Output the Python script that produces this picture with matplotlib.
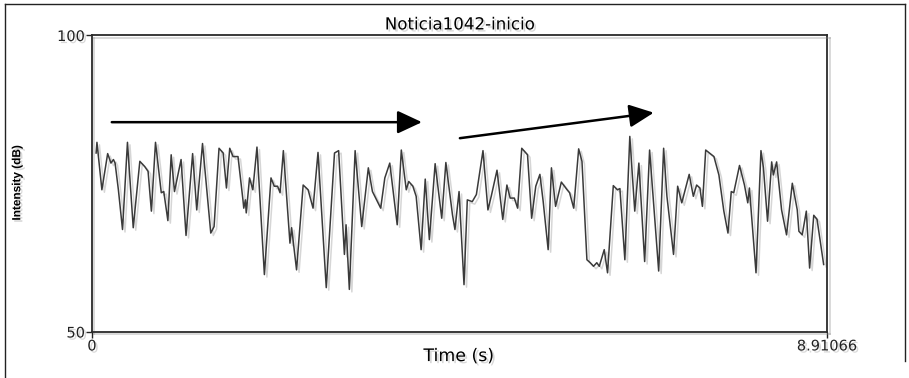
import matplotlib
matplotlib.use("Agg")
import matplotlib.pyplot as plt
import matplotlib.patheffects as pe
from matplotlib.lines import Line2D

# Intensity contour (time in seconds, intensity in dB)
time_s = [
    0.05, 0.06, 0.12, 0.19, 0.23, 0.26, 0.28, 0.32, 0.37, 0.43,
    0.50, 0.58, 0.64, 0.68, 0.72, 0.77, 0.84, 0.87, 0.92, 0.96,
    1.00, 1.08, 1.14, 1.22, 1.27, 1.34, 1.44, 1.48, 1.54, 1.59,
    1.63, 1.67, 1.71, 1.77, 1.83, 1.84, 1.86, 1.87, 1.91, 1.95,
    2.00, 2.09, 2.17, 2.21, 2.25, 2.28, 2.32, 2.40, 2.42, 2.48,
    2.56, 2.62, 2.68, 2.74, 2.84, 2.94, 2.99, 3.06, 3.08, 3.12,
    3.19, 3.27, 3.35, 3.40, 3.50, 3.55, 3.61, 3.70, 3.75, 3.81,
    3.84, 3.89, 3.93, 3.99, 4.04, 4.09, 4.16, 4.24, 4.29, 4.37,
    4.40, 4.45, 4.51, 4.55, 4.61, 4.66, 4.74, 4.80, 4.84, 4.91,
    4.98, 5.03, 5.07, 5.12, 5.16, 5.21, 5.28, 5.33, 5.38, 5.43,
    5.47, 5.53, 5.57, 5.62, 5.69, 5.76, 5.79, 5.84, 5.90, 5.94,
    6.00, 6.04, 6.08, 6.12, 6.15, 6.21, 6.25, 6.32, 6.37, 6.40,
    6.46, 6.52, 6.58, 6.63, 6.70, 6.76, 6.87, 6.93, 6.97, 7.05,
    7.10, 7.15, 7.24, 7.29, 7.33, 7.37, 7.40, 7.44, 7.54, 7.60,
    7.66, 7.71, 7.75, 7.78, 7.85, 7.91, 7.95, 7.97, 8.05, 8.11,
    8.14, 8.19, 8.24, 8.26, 8.30, 8.36, 8.42, 8.49, 8.55, 8.57,
    8.61, 8.66, 8.70, 8.75, 8.79, 8.87,
]
intensity_db = [
    80.1, 81.9, 73.9, 80.0, 78.4, 79.0, 78.4, 73.9, 67.2, 81.9,
    67.5, 78.7, 77.8, 77.0, 70.3, 81.9, 73.4, 73.6, 68.7, 79.8,
    73.6, 79.0, 66.2, 80.0, 70.5, 81.7, 66.6, 67.7, 80.9, 80.1,
    74.2, 80.9, 79.5, 79.5, 72.2, 70.8, 72.2, 70.0, 75.9, 73.9,
    81.1, 59.6, 75.9, 74.5, 74.5, 73.4, 80.5, 64.9, 67.5, 60.4,
    74.7, 73.9, 70.8, 80.2, 57.4, 80.1, 80.5, 63.0, 68.0, 57.1,
    80.5, 67.7, 77.6, 73.6, 70.8, 75.9, 78.4, 68.0, 80.6, 73.9,
    75.3, 74.5, 72.8, 63.8, 75.7, 65.5, 78.3, 69.1, 78.5, 69.7,
    67.2, 73.6, 57.9, 72.2, 71.9, 73.1, 80.5, 70.5, 72.8, 77.2,
    68.9, 74.7, 72.5, 72.5, 70.8, 80.9, 79.8, 69.1, 74.5, 76.5,
    71.9, 63.8, 77.6, 71.1, 75.2, 73.9, 73.4, 70.8, 80.8, 78.7,
    62.1, 61.6, 61.0, 61.6, 61.0, 63.8, 59.9, 74.6, 73.9, 74.1,
    62.1, 82.9, 70.3, 78.4, 61.8, 80.6, 60.2, 80.9, 72.8, 63.0,
    74.5, 71.7, 76.5, 72.8, 74.7, 74.2, 71.1, 80.6, 79.5, 76.4,
    70.3, 66.6, 73.6, 73.4, 78.0, 74.7, 71.7, 74.2, 59.9, 80.5,
    77.6, 68.6, 78.6, 76.4, 78.6, 70.5, 66.3, 75.0, 70.5, 66.9,
    66.3, 70.3, 60.7, 69.6, 68.9, 61.3,
]

time_range = [0, 8.91066]
db_range = [50, 100]
x_tick_labels = ["0", "8.91066"]
y_tick_labels = ["50", "100"]
title_text = "Noticia1042-inicio"
x_label = "Time (s)"
y_label = "Intensity (dB)"

# Two trend arrows: (start, end) in (s, dB)
arrow_flat = ((0.24, 85.3), (4.00, 85.3))
arrow_rise = ((4.46, 82.6), (6.81, 86.9))

plt.rcParams["font.family"] = ["DejaVu Sans"]

fig = plt.figure(figsize=(9.09, 3.78), dpi=100)
fig.patch.set_facecolor("white")

ax = fig.add_axes([0.1012, 0.123, 0.8086, 0.7844])

line_fx = [pe.SimpleLineShadow(offset=(1.8, -1.8), shadow_color="0.55", alpha=0.35),
           pe.Normal()]
text_fx = [pe.withSimplePatchShadow(offset=(1.5, -1.5), shadow_rgbFace="0.5", alpha=0.3)]

ax.plot(time_s, intensity_db, color="#3a3a3a", lw=1.1, path_effects=line_fx)

ax.set_xlim(time_range)
ax.set_ylim(db_range)
ax.set_xticks(time_range, x_tick_labels)
ax.set_yticks(db_range, y_tick_labels)
ax.tick_params(length=4, width=1.0, labelsize=10.5, pad=1, colors="#222222")
for lbl in ax.get_xticklabels() + ax.get_yticklabels():
    lbl.set_path_effects(text_fx)
for sp in ax.spines.values():
    sp.set_linewidth(1.3)
    sp.set_color("#2a2a2a")
    sp.set_path_effects(line_fx)

for (x0, y0), (x1, y1) in (arrow_flat, arrow_rise):
    ax.annotate("", xy=(x1, y1), xytext=(x0, y0),
                arrowprops=dict(arrowstyle="-|>,head_length=1.5,head_width=0.7",
                                color="black", lw=1.8, shrinkA=0, shrinkB=0,
                                mutation_scale=10))

ax.set_title(title_text, fontsize=12, pad=4, path_effects=text_fx)
fig.text(0.505, 0.058, x_label, ha="center", va="center", fontsize=12.5,
         path_effects=text_fx)
fig.text(0.019, 0.516, y_label, family="Liberation Sans", ha="center", va="center",
         rotation=90, fontsize=8.5, fontweight="bold", path_effects=text_fx)

# Surrounding frame
frame = dict(transform=fig.transFigure, color="#222222", lw=1.0)
fig.add_artist(Line2D([0.0055, 0.9956], [0.989, 0.989], **frame))
fig.add_artist(Line2D([0.0055, 0.0055], [0.0, 0.989], **frame))
fig.add_artist(Line2D([0.9956, 0.9956], [0.045, 0.989], **frame))

fig.savefig("out.png", dpi=100, facecolor="white")
